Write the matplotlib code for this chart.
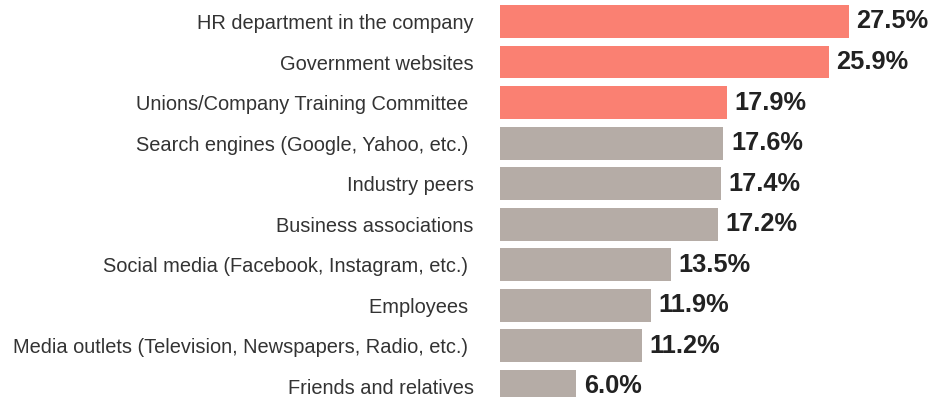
"""Horizontal bar chart of information sources."""
import matplotlib.pyplot as plt

categories = [
    "HR department in the company",
    "Government websites",
    "Unions/Company Training Committee ",
    "Search engines (Google, Yahoo, etc.) ",
    "Industry peers",
    "Business associations",
    "Social media (Facebook, Instagram, etc.) ",
    "Employees ",
    "Media outlets (Television, Newspapers, Radio, etc.) ",
    "Friends and relatives",
]
values = [27.5, 25.9, 17.9, 17.6, 17.4, 17.2, 13.5, 11.9, 11.2, 6.0]
n_highlight = 3

SALMON = "#FA8072"
GREY = "#B5ACA6"


def main():
    plt.rcParams['font.family'] = ['Liberation Sans', 'DejaVu Sans']
    fig = plt.figure(figsize=(9.44, 3.97), dpi=100)
    ax = fig.add_axes([500 / 944, 0, 444 / 944, 1])

    ypos = list(range(len(values)))
    colors = [SALMON if i < n_highlight else GREY for i in ypos]
    ax.barh(ypos, values, height=0.81, color=colors)

    for y, v in zip(ypos, values):
        ax.text(v + 0.6, y, f"{v:.1f}%", va='center', ha='left',
                fontsize=18.3, fontweight='bold', color='#222222')

    ax.set_yticks(ypos)
    ax.set_yticklabels(categories, fontsize=14.4, color='#333333')
    ax.tick_params(axis='y', length=0, pad=19)
    ax.set_xticks([])
    ax.set_xlim(0, 35)
    ax.set_ylim(9.26, -0.53)
    for s in ax.spines.values():
        s.set_visible(False)

    fig.savefig("out.png", dpi=100)


if __name__ == "__main__":
    main()
